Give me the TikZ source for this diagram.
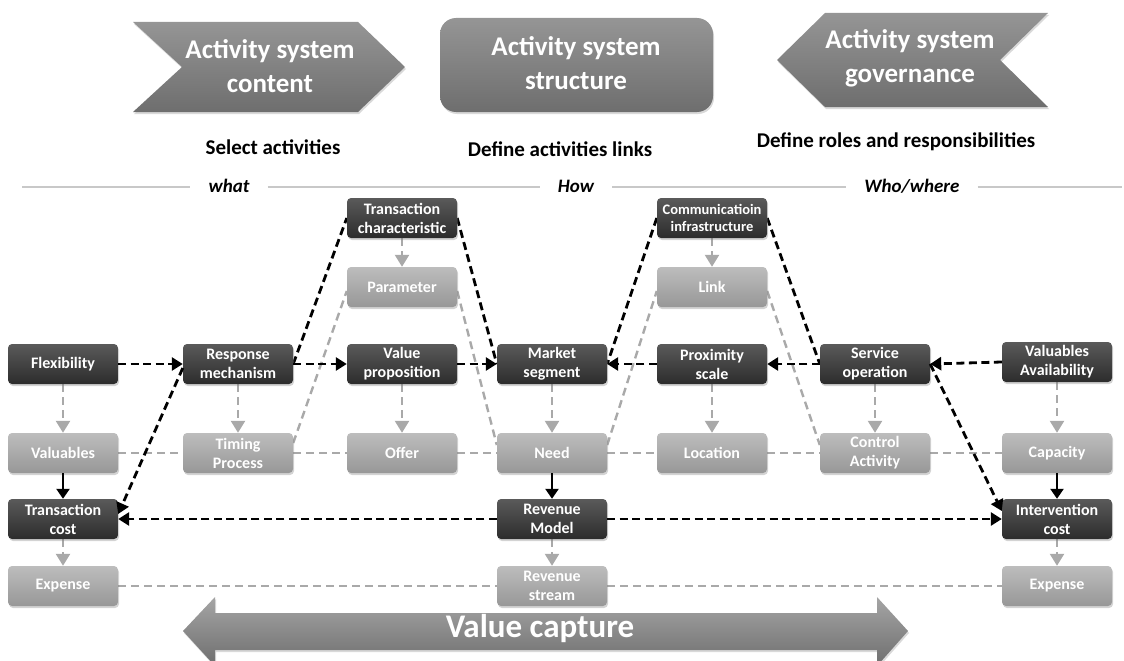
\documentclass[tikz,border=0pt]{standalone}
\usepackage{fontspec}
\setmainfont{Carlito}
\usetikzlibrary{arrows.meta,shadows,backgrounds}
\definecolor{dkT}{HTML}{5A5A5A}
\definecolor{dkB}{HTML}{2C2C2C}
\definecolor{ltT}{HTML}{BDBDBD}
\definecolor{ltB}{HTML}{979797}
\definecolor{shT}{HTML}{959595}
\definecolor{shB}{HTML}{6E6E6E}
\definecolor{gline}{HTML}{A9A9A9}
\definecolor{sepline}{HTML}{C8C8C8}
\begin{document}
\begin{tikzpicture}[x=1pt,y=-1pt,
  box/.style={rounded corners=4pt, minimum width=110pt, minimum height=40pt, align=center,
    text=white, font=\bfseries\fontsize{16}{19}\selectfont, inner sep=1pt,
    drop shadow={shadow xshift=1pt,shadow yshift=-2pt,opacity=0.35}},
  dk/.style={box, top color=dkT, bottom color=dkB},
  lt/.style={box, top color=ltT, bottom color=ltB},
  blkarr/.style={line width=2.8pt, dash pattern=on 8pt off 4.5pt, -{Triangle[length=11pt,width=13pt]}},
  blkln/.style={line width=2.8pt, dash pattern=on 8pt off 4.5pt},
  solidarr/.style={line width=2.4pt, -{Triangle[length=10pt,width=13pt]}},
  gln/.style={line width=2.4pt, draw=gline, dash pattern=on 8pt off 5pt},
  garr/.style={gln, -{Triangle[length=12pt,width=14pt,fill=gline]}},
  head/.style={top color=shT, bottom color=shB, drop shadow={shadow xshift=1pt,shadow yshift=-2pt,opacity=0.3}},
  ttl/.style={text=white, align=center, font=\bfseries\fontsize{27}{34}\selectfont},
  sub/.style={font=\bfseries\fontsize{21}{24}\selectfont},
  sec/.style={font=\bfseries\itshape\fontsize{19}{22}\selectfont, inner xsep=18pt}
]
\useasboundingbox (0,0) rectangle (1124,661);

% top shapes
\path[head] (133,22) -- (358,22) -- (405,67) -- (358,112) -- (133,112) -- (182,67) -- cycle;
\path[head, rounded corners=16pt] (440,18) rectangle (713,112);
\path[head] (777,60) -- (825,13) -- (1048,13) -- (1000,60) -- (1048,107) -- (825,107) -- cycle;
\node[ttl] (t1) at (270,66) {Activity system\\content};
\node[ttl] (t2) at (576,63) {Activity system\\structure};
\node[ttl] (t3) at (910,58) {Activity system\\governance};
\node[sub] (s1) at (273,147) {Select activities};
\node[sub] (s2) at (560,149) {Define activities links};
\node[sub] (s3) at (896,142) {Define roles and responsibilities};

% section separators
\node[sec] (w1) at (229,186) {what};
\node[sec] (w2) at (576,186) {How};
\node[sec] (w3) at (912,186) {Who/where};
\coordinate (l0) at (22,187);
\coordinate (l3) at (1122,187);
\draw[sepline, line width=2.5pt] (l0) -- (l0 -| w1.west);
\draw[sepline, line width=2.5pt] (l0 -| w1.east) -- (l0 -| w2.west);
\draw[sepline, line width=2.5pt] (l0 -| w2.east) -- (l0 -| w3.west);
\draw[sepline, line width=2.5pt] (l0 -| w3.east) -- (l3);

% value capture arrow
\begin{scope}
\clip (0,0) rectangle (1124,661);
\path[top color=shT!85!white, bottom color=shB, drop shadow={shadow xshift=1pt,shadow yshift=-2pt,opacity=0.3}]
  (183,631) -- (215,597) -- (215,613) -- (877,613) -- (877,597) -- (908,631)
  -- (877,666) -- (877,650) -- (215,650) -- (215,666) -- cycle;
\end{scope}
\node[text=white, font=\bfseries\fontsize{33}{35}\selectfont] (vc) at (540,629) {Value capture};

% nodes
\node[dk] (tch) at (402,218) {Transaction\\characteristic};
\node[dk, font=\bfseries\fontsize{14.5}{17}\selectfont] (ci) at (712,218) {Communicatioin\\infrastructure};
\node[lt] (par) at (402,287) {Parameter};
\node[lt] (lnk) at (712,287) {Link};

\node[dk] (flex) at (63,364) {Flexibility};
\node[dk] (resp) at (238,364) {Response\\mechanism};
\node[dk] (vp) at (402,364) {Value\\proposition};
\node[dk] (ms) at (552,364) {Market\\segment};
\node[dk] (ps) at (712,364) {Proximity\\scale};
\node[dk] (so) at (875,364) {Service\\operation};
\node[dk] (va) at (1057,362) {Valuables\\Availability};

\node[lt] (val) at (63,453) {Valuables};
\node[lt] (tp) at (238,453) {Timing\\Process};
\node[lt] (off) at (402,453) {Offer};
\node[lt] (need) at (552,453) {Need};
\node[lt] (loc) at (712,453) {Location};
\node[lt] (ca) at (875,453) {Control\\Activity};
\node[lt] (cap) at (1057,453) {Capacity};

\node[dk] (tcost) at (63,519) {Transaction\\cost};
\node[dk] (rm) at (552,519) {Revenue\\Model};
\node[dk] (ic) at (1057,519) {Intervention\\cost};

\node[lt] (exp1) at (63,586) {Expense};
\node[lt] (rs) at (552,586) {Revenue\\stream};
\node[lt] (exp2) at (1057,586) {Expense};

\begin{scope}[on background layer]
% gray dashed links
\draw[gln] (val) -- (tp);
\draw[gln] (tp) -- (off);
\draw[gln] (off) -- (need);
\draw[gln] (need) -- (loc);
\draw[gln] (loc) -- (ca);
\draw[gln] (ca) -- (cap);
\draw[gln] (exp1) -- (rs);
\draw[gln] (rs) -- (exp2);
\draw[gln] ([yshift=10pt]tp.east) -- ([yshift=-4pt]par.west);
\draw[gln] ([yshift=-4pt]par.east) -- ([yshift=8pt]need.west);
\draw[gln] ([yshift=8pt]need.east) -- ([yshift=-4pt]lnk.west);
\draw[gln] ([yshift=-4pt]lnk.east) -- ([yshift=8pt]ca.west);
% gray vertical arrows
\draw[garr] (tch) -- (par);
\draw[garr] (ci) -- (lnk);
\draw[garr] (flex) -- (val);
\draw[garr] (resp) -- (tp);
\draw[garr] (vp) -- (off);
\draw[garr] (ms) -- (need);
\draw[garr] (ps) -- (loc);
\draw[garr] (so) -- (ca);
\draw[garr] (va) -- (cap);
\draw[garr] (tcost) -- (exp1);
\draw[garr] (rm) -- (rs);
\draw[garr] (ic) -- (exp2);
% black dashed lines
\draw[blkln] (resp.east) -- (tch.west);
\draw[blkln] (tch.east) -- (ms.west);
\draw[blkln] (ci.west) -- (ms.east);
\draw[blkln] (ci.east) -- (so.west);
\end{scope}

% black dashed arrows
\draw[blkarr] (flex) -- (resp);
\draw[blkarr] (resp) -- (vp);
\draw[blkarr] (vp) -- (ms);
\draw[blkarr] (ps) -- (ms);
\draw[blkarr] (so) -- (ps);
\draw[blkarr] (va.west) -- (so.east);
\draw[blkarr] ([yshift=-4pt]resp.west) -- ([yshift=5pt]tcost.east);
\draw[blkarr] (rm) -- (tcost);
\draw[blkarr] (rm) -- (ic);
\draw[blkarr] (so.east) -- ([yshift=8pt]ic.west);
% solid black arrows
\draw[solidarr] (val) -- (tcost);
\draw[solidarr] (need) -- (rm);
\draw[solidarr] (cap) -- (ic);
\end{tikzpicture}
\end{document}
